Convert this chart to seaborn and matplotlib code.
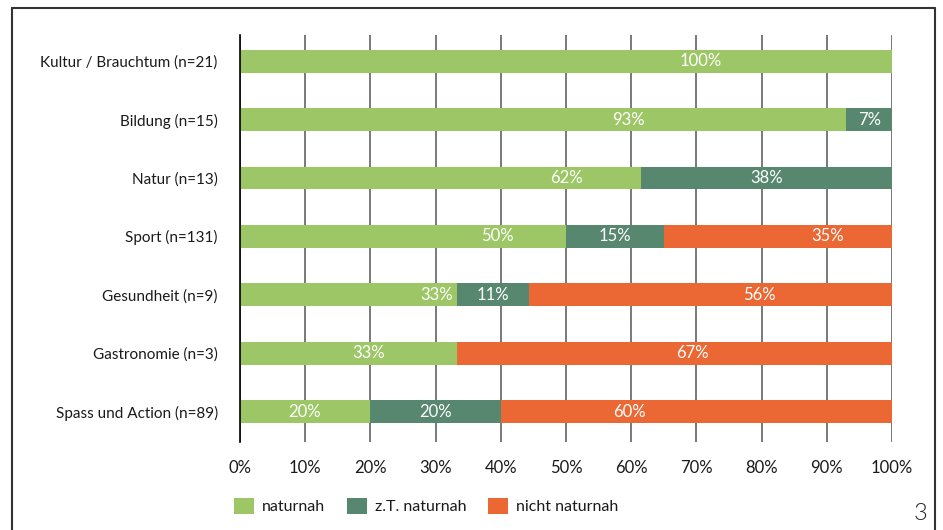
import matplotlib
matplotlib.use("Agg")
import matplotlib.pyplot as plt
from matplotlib.patches import Patch
from matplotlib.lines import Line2D
import seaborn as sns
import pandas as pd

categories = ["Kultur / Brauchtum (n=21)", "Bildung (n=15)", "Natur (n=13)", "Sport (n=131)",
              "Gesundheit (n=9)", "Gastronomie (n=3)", "Spass und Action (n=89)"]
series_names = ["naturnah", "z.T. naturnah", "nicht naturnah"]
naturnah = [100, 93, 61.5, 50, 33.3, 33.3, 20]
zt_naturnah = [0, 7, 38.5, 15, 11.1, 0, 20]
nicht_naturnah = [0, 0, 0, 35, 55.6, 66.7, 60]
x_ticks = [0, 10, 20, 30, 40, 50, 60, 70, 80, 90, 100]
x_tick_labels = [f"{t}%" for t in x_ticks]

# label placement (as in the reference)
label_pos_first = [70.7, 59.6, 50.1, 39.5, 30.1, 19.7, 9.9]
label_pos_third = [None, None, None, 90.1, 79.7, 69.4, 59.7]

colors = ["#9DC766", "#57876F", "#EB6834"]
text_color = "#1a1a1a"

sns.set_theme(style="white")
plt.rcParams["font.family"] = ["Lato", "DejaVu Sans"]
fs_cat = 11
fs_num = 12

fig = plt.figure(figsize=(9.43, 5.30), dpi=100)
ax = fig.add_axes([240/943, 1-442/530, (892-240)/943, (442-35)/530])

df = pd.DataFrame({"cat": categories, "a": naturnah, "b": zt_naturnah, "c": nicht_naturnah})
df["cum_a"] = df["a"]
df["cum_b"] = df["a"] + df["b"]
df["cum_c"] = df["a"] + df["b"] + df["c"]

for col, c in zip(["cum_c", "cum_b", "cum_a"], colors[::-1]):
    sns.barplot(data=df, x=col, y="cat", orient="h", color=c, width=0.39,
                saturation=1, ax=ax, linewidth=0, order=categories)

# data labels
for i in range(len(categories)):
    ax.text(label_pos_first[i], i, f"{naturnah[i]:.0f}%", color="white", fontsize=fs_num,
            ha="center", va="center")
    if zt_naturnah[i] > 0:
        ax.text(naturnah[i] + zt_naturnah[i]/2, i, f"{zt_naturnah[i]:.0f}%", color="white",
                fontsize=fs_num, ha="center", va="center")
    if nicht_naturnah[i] > 0:
        ax.text(label_pos_third[i], i, f"{nicht_naturnah[i]:.0f}%", color="white",
                fontsize=fs_num, ha="center", va="center")

ax.set_xlim(0, 100)
ax.set_ylim(6.52, -0.45)
ax.set_xticks(x_ticks)
ax.set_xticklabels(x_tick_labels, fontsize=fs_num, color=text_color)
ax.set_xlabel("")
ax.set_ylabel("")
ax.tick_params(axis="y", length=0, pad=16, labelsize=fs_cat, labelcolor=text_color)
ax.tick_params(axis="x", length=6, width=1, color="#555555", direction="out", pad=7)
for s in ["top", "right", "bottom"]:
    ax.spines[s].set_visible(False)
ax.spines["left"].set_color("black")
ax.spines["left"].set_linewidth(1.2)
ax.spines["left"].set_zorder(5)
ax.xaxis.grid(True, color="#555555", linewidth=1.1)
ax.set_axisbelow(True)

# legend
handles = [Patch(facecolor=c, edgecolor="none", label=n) for c, n in zip(colors, series_names)]
leg = fig.legend(handles=handles, loc="center left", bbox_to_anchor=(234/943, 1-506/530),
                 ncol=3, frameon=False, fontsize=11.5, handlelength=1.25, handleheight=1.25,
                 handletextpad=0.5, columnspacing=1.35, borderpad=0, borderaxespad=0)
for t in leg.get_texts():
    t.set_color(text_color)

# page number
fig.text(921/943, 1-514/530, "3", fontsize=17, color="#222222", ha="center", va="center",
         fontweight=300)

# frame
lw = 1.5
fc = "#333333"
fig.add_artist(Line2D([12/943, 12/943], [0, 1-8/530], color=fc, lw=lw, transform=fig.transFigure))
fig.add_artist(Line2D([12/943, 935/943], [1-8/530, 1-8/530], color=fc, lw=lw, transform=fig.transFigure))
fig.add_artist(Line2D([935/943, 935/943], [0, 1-8/530], color=fc, lw=lw, transform=fig.transFigure))

fig.savefig("out.png", dpi=100)
